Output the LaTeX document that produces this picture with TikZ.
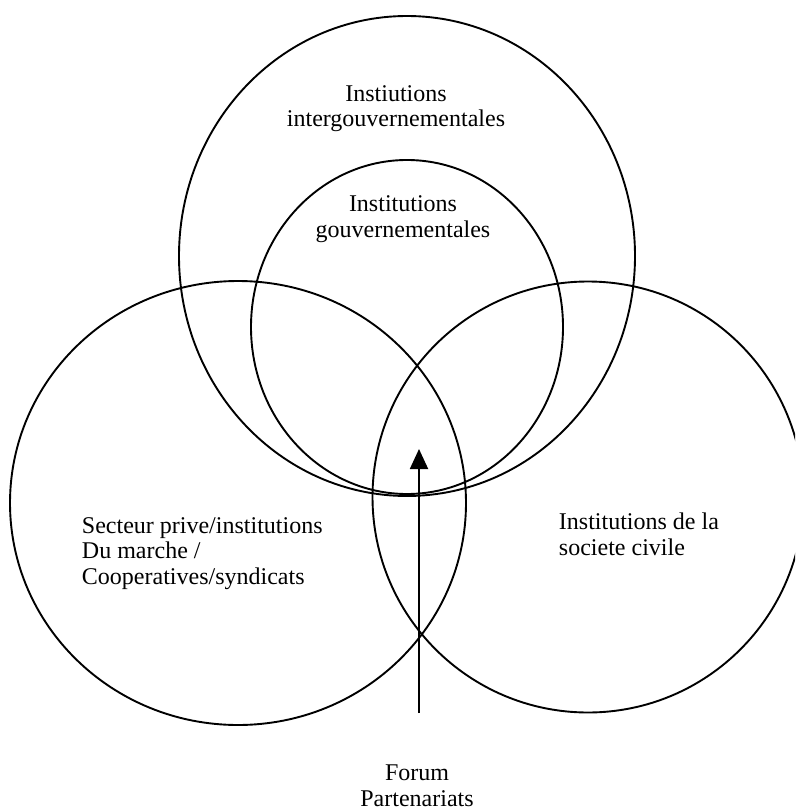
\documentclass[tikz,border=0pt]{standalone}
\usepackage{fontspec}
\setmainfont{Liberation Serif}
\usetikzlibrary{arrows.meta}

\begin{document}
\begin{tikzpicture}[x=1pt,y=-1pt,line width=1.9pt,
  label text/.style={inner sep=0pt,font=\fontsize{24}{25.5}\selectfont}]
\clip (0,0) rectangle (795,810);
% the four circles
\draw (407,256) ellipse [x radius=228, y radius=240];
\draw (407,327) ellipse [x radius=156, y radius=167];
\draw (238,503) ellipse [x radius=228, y radius=222];
\draw (588,497) ellipse [x radius=215.5, y radius=215.5];
% texts (base = last line)
\node[label text,align=center,anchor=base] (inter) at (396,127) {Instiutions\\intergouvernementales};
\node[label text,align=center,anchor=base] (gouv) at (403,237) {Institutions\\gouvernementales};
\node[label text,align=left,anchor=base west] (prive) at (81,584) {Secteur prive/institutions\\Du marche /\\Cooperatives/syndicats};
\node[label text,align=left,anchor=base west] (civile) at (558,555) {Institutions de la\\societe civile};
\node[label text,align=center,anchor=base] (forum) at (417,806) {Forum\\Partenariats};
% arrow
\coordinate (foot) at (419,713);
\coordinate (tip) at (419,449);
\draw[-{Triangle[length=20pt,width=18pt]}] (foot) -- (tip);
\end{tikzpicture}
\end{document}
